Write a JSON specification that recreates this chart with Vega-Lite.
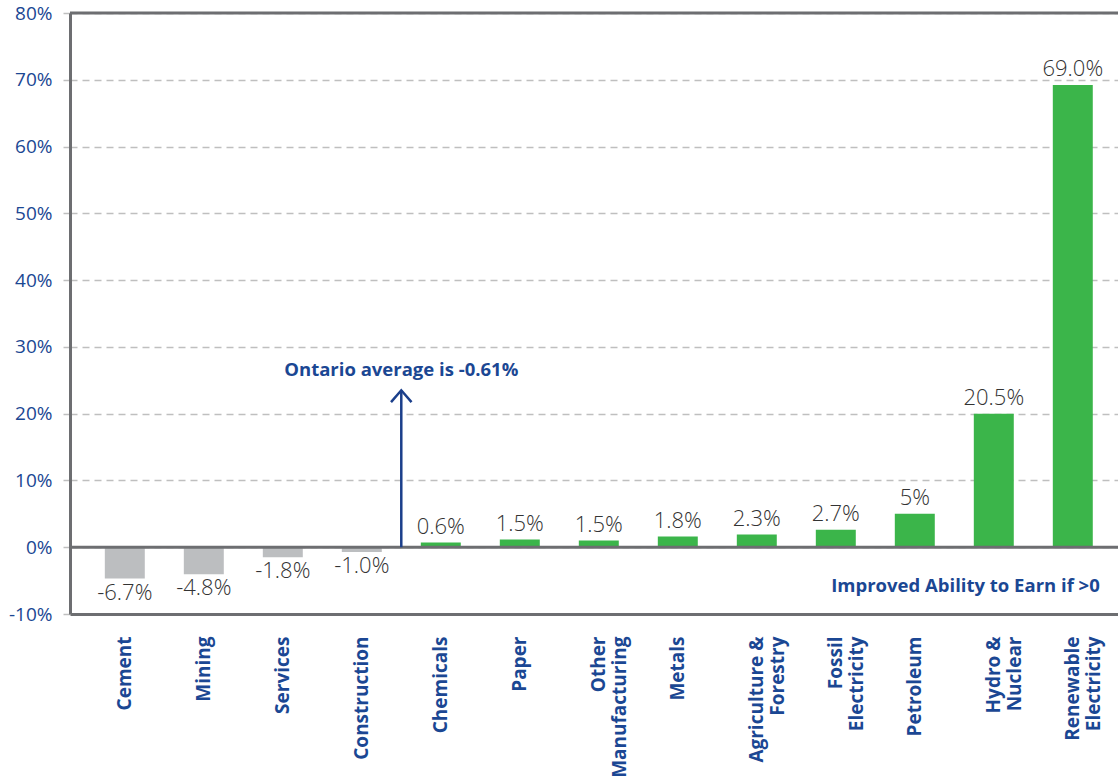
{
  "$schema": "https://vega.github.io/schema/vega-lite/v6.json",
  "autosize": {"type": "none"},
  "padding": {"left": 70, "top": 13, "right": 0, "bottom": 167},
  "width": 1048,
  "height": 601,
  "background": "white",
  "config": {
    "view": {"stroke": null},
    "font": "Open Sans"
  },
  "datasets": {
    "bars": [
      {"sector": "Cement", "value": -4.7, "label": "-6.7%"},
      {"sector": "Mining", "value": -4.05, "label": "-4.8%"},
      {"sector": "Services", "value": -1.5, "label": "-1.8%"},
      {"sector": "Construction", "value": -0.7, "label": "-1.0%"},
      {"sector": "Chemicals", "value": 0.7, "label": "0.6%"},
      {"sector": "Paper", "value": 1.15, "label": "1.5%"},
      {"sector": "Other\nManufacturing", "value": 1.0, "label": "1.5%"},
      {"sector": "Metals", "value": 1.6, "label": "1.8%"},
      {"sector": "Agriculture &\nForestry", "value": 1.9, "label": "2.3%"},
      {"sector": "Fossil\nElectricity", "value": 2.6, "label": "2.7%"},
      {"sector": "Petroleum", "value": 5.0, "label": "5%"},
      {"sector": "Hydro &\nNuclear", "value": 20.0, "label": "20.5%"},
      {"sector": "Renewable\nElectricity", "value": 69.2, "label": "69.0%"}
    ],
    "frame": [{"y": 80}, {"y": 0}],
    "arrow": [{"sector": "Construction", "tip": 23.5, "base": 0, "note": "Ontario average is -0.61%", "noteY": 25.6}],
    "earn": [{"sector": "Renewable\nElectricity", "y": -6.7, "note": "Improved Ability to Earn if >0"}]
  },
  "layer": [
    {
      "data": {"name": "bars"},
      "mark": {"type": "bar"},
      "encoding": {
        "x": {
          "field": "sector", "type": "nominal", "sort": null,
          "scale": {"paddingInner": 0.494, "paddingOuter": 0.38, "align": 0.58},
          "axis": {
            "title": null,
            "orient": "bottom",
            "labelAngle": -90,
            "labelAlign": "right",
            "labelBaseline": "middle",
            "labelExpr": "split(datum.label, '\\n')",
            "labelLineHeight": 21,
            "labelFont": "Open Sans",
            "labelFontSize": 19,
            "labelFontWeight": "bold",
            "labelColor": "#1b4793",
            "labelPadding": 22,
            "ticks": false,
            "domain": true,
            "domainColor": "#6d6e71",
            "domainWidth": 3
          }
        },
        "y": {
          "field": "value", "type": "quantitative",
          "scale": {"domain": [-10, 80], "nice": false, "zero": false},
          "axis": {
            "title": null,
            "values": [-10, 0, 10, 20, 30, 40, 50, 60, 70, 80],
            "labelExpr": "datum.value + '%'",
            "labelFont": "Open Sans",
            "labelFontSize": 19,
            "labelColor": "#1b4793",
            "labelPadding": 8,
            "tickSize": 10,
            "tickColor": "#bfbfbf",
            "tickWidth": 1.5,
            "tickDash": [7, 5],
            "grid": true,
            "gridColor": "#bfbfbf",
            "gridWidth": 1.5,
            "gridDash": [7, 5],
            "domain": true,
            "domainColor": "#6d6e71",
            "domainWidth": 3
          }
        },
        "color": {
          "condition": {"test": "datum.value < 0", "value": "#bcbec0"},
          "value": "#3bb54a"
        }
      }
    },
    {
      "data": {"name": "frame"},
      "mark": {"type": "rule", "color": "#6d6e71", "strokeWidth": 3},
      "encoding": {"y": {"field": "y", "type": "quantitative"}}
    },
    {
      "data": {"name": "bars"},
      "transform": [{"filter": "datum.value >= 0"}],
      "mark": {"type": "text", "baseline": "alphabetic", "dy": -9, "fontSize": 22, "fontWeight": 300, "color": "#333333"},
      "encoding": {
        "x": {"field": "sector", "type": "nominal", "sort": null},
        "y": {"field": "value", "type": "quantitative"},
        "text": {"field": "label"}
      }
    },
    {
      "data": {"name": "bars"},
      "transform": [{"filter": "datum.value < 0"}],
      "mark": {"type": "text", "baseline": "top", "dy": 4, "fontSize": 22, "fontWeight": 300, "color": "#333333"},
      "encoding": {
        "x": {"field": "sector", "type": "nominal", "sort": null},
        "y": {"field": "value", "type": "quantitative"},
        "text": {"field": "label"}
      }
    },
    {
      "data": {"name": "arrow"},
      "mark": {"type": "rule", "color": "#1b3f8b", "strokeWidth": 2.5},
      "encoding": {
        "x": {"field": "sector", "type": "nominal", "sort": null, "bandPosition": 1.4875},
        "y": {"field": "tip", "type": "quantitative"},
        "y2": {"field": "base"}
      }
    },
    {
      "data": {"name": "arrow"},
      "mark": {"type": "point", "shape": "M-1,1.15L0,0L1,1.15", "filled": false, "size": 420, "stroke": "#1b3f8b", "strokeWidth": 2.5, "opacity": 1},
      "encoding": {
        "x": {"field": "sector", "type": "nominal", "sort": null, "bandPosition": 1.4875},
        "y": {"field": "tip", "type": "quantitative"}
      }
    },
    {
      "data": {"name": "arrow"},
      "mark": {"type": "text", "align": "center", "baseline": "alphabetic", "fontSize": 18.5, "fontWeight": "bold", "color": "#1b4793"},
      "encoding": {
        "x": {"field": "sector", "type": "nominal", "sort": null, "bandPosition": 1.4875},
        "y": {"field": "noteY", "type": "quantitative"},
        "text": {"field": "note"}
      }
    },
    {
      "data": {"name": "earn"},
      "mark": {"type": "text", "align": "right", "baseline": "alphabetic", "fontSize": 18.5, "fontWeight": "bold", "color": "#1b4793"},
      "encoding": {
        "x": {"field": "sector", "type": "nominal", "sort": null, "bandPosition": 1.175},
        "y": {"field": "y", "type": "quantitative"},
        "text": {"field": "note"}
      }
    }
  ]
}
